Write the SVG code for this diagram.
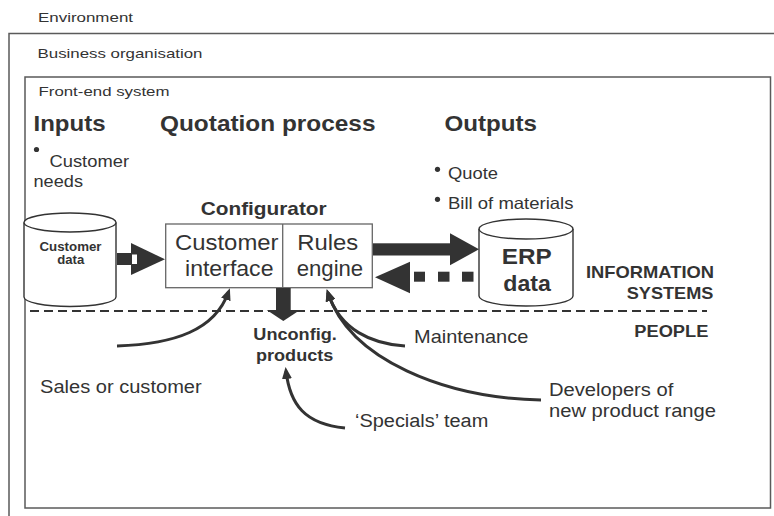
<svg xmlns="http://www.w3.org/2000/svg" width="774" height="516" viewBox="0 0 774 516">
<style>
text{font-family:"Liberation Sans",Arial,Helvetica,sans-serif;fill:#333}
.b{font-weight:bold}
.frame{fill:none;stroke:#5a5a5a;stroke-width:1.5}
.cyl{fill:#fff;stroke:#333;stroke-width:1.4}
.box{fill:#fff;stroke:#666;stroke-width:1.3}
.dk{fill:#333}
.curve{fill:none;stroke:#333;stroke-width:3;marker-end:url(#ah)}
</style>
<defs>
<marker id="ah" markerUnits="userSpaceOnUse" markerWidth="12" markerHeight="10" refX="8" refY="5" orient="auto"><path d="M0,0 L12,5 L0,10 z" fill="#333"/></marker>
</defs>
<rect width="774" height="516" fill="#fff"/>

<g id="environment">
<text x="38" y="21.7" font-size="13" textLength="95" lengthAdjust="spacingAndGlyphs">Environment</text>
</g>
<g id="business-organisation">
<path class="frame" d="M9,516 V33.5 H774"/>
<text x="37.5" y="57.5" font-size="13.5" textLength="165" lengthAdjust="spacingAndGlyphs">Business organisation</text>
</g>
<g id="front-end-system">
<rect class="frame" x="25" y="77" width="745.5" height="431"/>
<text x="38.5" y="95.5" font-size="13.5" textLength="131" lengthAdjust="spacingAndGlyphs">Front-end system</text>
</g>

<g id="headings">
<text class="b" x="33.5" y="130.7" font-size="22" textLength="72" lengthAdjust="spacingAndGlyphs">Inputs</text>
<text class="b" x="160" y="130.7" font-size="22" textLength="215.5" lengthAdjust="spacingAndGlyphs">Quotation process</text>
<text class="b" x="444.5" y="130.7" font-size="22" textLength="92.5" lengthAdjust="spacingAndGlyphs">Outputs</text>
</g>

<g id="inputs-list">
<circle class="dk" cx="36.5" cy="149.5" r="2.6"/>
<text x="49.5" y="166.7" font-size="16.5" textLength="79.5" lengthAdjust="spacingAndGlyphs">Customer</text>
<text x="33.5" y="187.3" font-size="16.5" textLength="49.5" lengthAdjust="spacingAndGlyphs">needs</text>
</g>

<g id="outputs-list">
<circle class="dk" cx="437.5" cy="169.3" r="2.6"/>
<text x="448" y="179.3" font-size="16.5" textLength="50" lengthAdjust="spacingAndGlyphs">Quote</text>
<circle class="dk" cx="437.5" cy="199.3" r="2.6"/>
<text x="448" y="209.3" font-size="16.5" textLength="125.5" lengthAdjust="spacingAndGlyphs">Bill of materials</text>
</g>

<g id="customer-data">
<path class="cyl" d="M24,222.5 V297 A46,9.5 0 0 0 116,297 V222.5"/>
<ellipse class="cyl" cx="70" cy="222.5" rx="46" ry="9.5"/>
<text class="b" x="39.5" y="250.7" font-size="13" textLength="62" lengthAdjust="spacingAndGlyphs">Customer</text>
<text class="b" x="57.3" y="264.3" font-size="13" textLength="27" lengthAdjust="spacingAndGlyphs">data</text>
</g>

<g id="configurator">
<text class="b" x="200.7" y="215" font-size="19" textLength="126" lengthAdjust="spacingAndGlyphs">Configurator</text>
<rect class="box" x="165.7" y="224" width="206.6" height="63.7"/>
<line x1="282.7" y1="224" x2="282.7" y2="287.7" stroke="#666" stroke-width="1.3"/>
</g>
<g id="customer-interface">
<text x="175" y="250" font-size="22" textLength="103.5" lengthAdjust="spacingAndGlyphs">Customer</text>
<text x="185" y="276" font-size="22" textLength="88.5" lengthAdjust="spacingAndGlyphs">interface</text>
</g>
<g id="rules-engine">
<text x="297.3" y="250" font-size="22" textLength="61" lengthAdjust="spacingAndGlyphs">Rules</text>
<text x="296.7" y="276" font-size="22" textLength="66.5" lengthAdjust="spacingAndGlyphs">engine</text>
</g>

<g id="erp-data">
<path class="cyl" d="M479,229 V296 A47,10 0 0 0 573,296 V229"/>
<ellipse class="cyl" cx="526" cy="229" rx="47" ry="10"/>
<text class="b" x="501.7" y="264" font-size="22" textLength="50" lengthAdjust="spacingAndGlyphs">ERP</text>
<text class="b" x="503.3" y="290.7" font-size="22" textLength="47.5" lengthAdjust="spacingAndGlyphs">data</text>
</g>

<g id="layer-labels">
<text class="b" x="586" y="278.3" font-size="17" textLength="128" lengthAdjust="spacingAndGlyphs">INFORMATION</text>
<text class="b" x="626.7" y="299.3" font-size="17" textLength="86.7" lengthAdjust="spacingAndGlyphs">SYSTEMS</text>
<text class="b" x="634.3" y="337.3" font-size="16" textLength="74" lengthAdjust="spacingAndGlyphs">PEOPLE</text>
</g>
<path id="separator" d="M30,311 H707" fill="none" stroke="#333" stroke-width="2" stroke-dasharray="9,5"/>

<g id="unconfig-products">
<text class="b" x="253.3" y="340" font-size="16" textLength="83.5" lengthAdjust="spacingAndGlyphs">Unconfig.</text>
<text class="b" x="256" y="360.7" font-size="16" textLength="77.3" lengthAdjust="spacingAndGlyphs">products</text>
</g>
<g id="sales-or-customer">
<text x="40" y="392.7" font-size="17.5" textLength="161.7" lengthAdjust="spacingAndGlyphs">Sales or customer</text>
</g>
<g id="maintenance">
<text x="414" y="342.7" font-size="18.5" textLength="114.3" lengthAdjust="spacingAndGlyphs">Maintenance</text>
</g>
<g id="developers">
<text x="549" y="396" font-size="18" textLength="124.3" lengthAdjust="spacingAndGlyphs">Developers of</text>
<text x="549" y="417.3" font-size="18" textLength="167" lengthAdjust="spacingAndGlyphs">new product range</text>
</g>
<g id="specials-team">
<text x="355" y="427.3" font-size="18" textLength="133.3" lengthAdjust="spacingAndGlyphs">‘Specials’ team</text>
</g>

<g id="connectors">
<rect class="dk" x="117" y="253" width="15" height="12"/>
<path class="dk" d="M131,243 L165,259.3 L131,275 z"/>
<rect x="132" y="254.5" width="5" height="9.5" fill="#fff"/>
<rect class="dk" x="373" y="243.3" width="78" height="12.2"/>
<path class="dk" d="M450,233.3 L479,249.3 L450,265.3 z"/>
<path class="dk" d="M375,277.3 L410,261.7 L410,293.3 z"/>
<rect class="dk" x="414" y="271.7" width="11" height="10"/>
<rect class="dk" x="438" y="271.7" width="11.5" height="10"/>
<rect class="dk" x="462" y="271.7" width="11.5" height="10"/>
<rect class="dk" x="276" y="288" width="14.7" height="22.5"/>
<path class="dk" d="M266.7,310 L300,310 L283.3,321 z"/>
<path class="curve" d="M117,346 C175,344 215,330 228.5,292"/>
<path class="curve" d="M405,346 C372,344 340,330 328,293"/>
<path class="curve" d="M541,400 C445,398 350,360 328,293"/>
<path class="curve" d="M345,428 C305,424 290,405 286,371"/>
</g>
</svg>
